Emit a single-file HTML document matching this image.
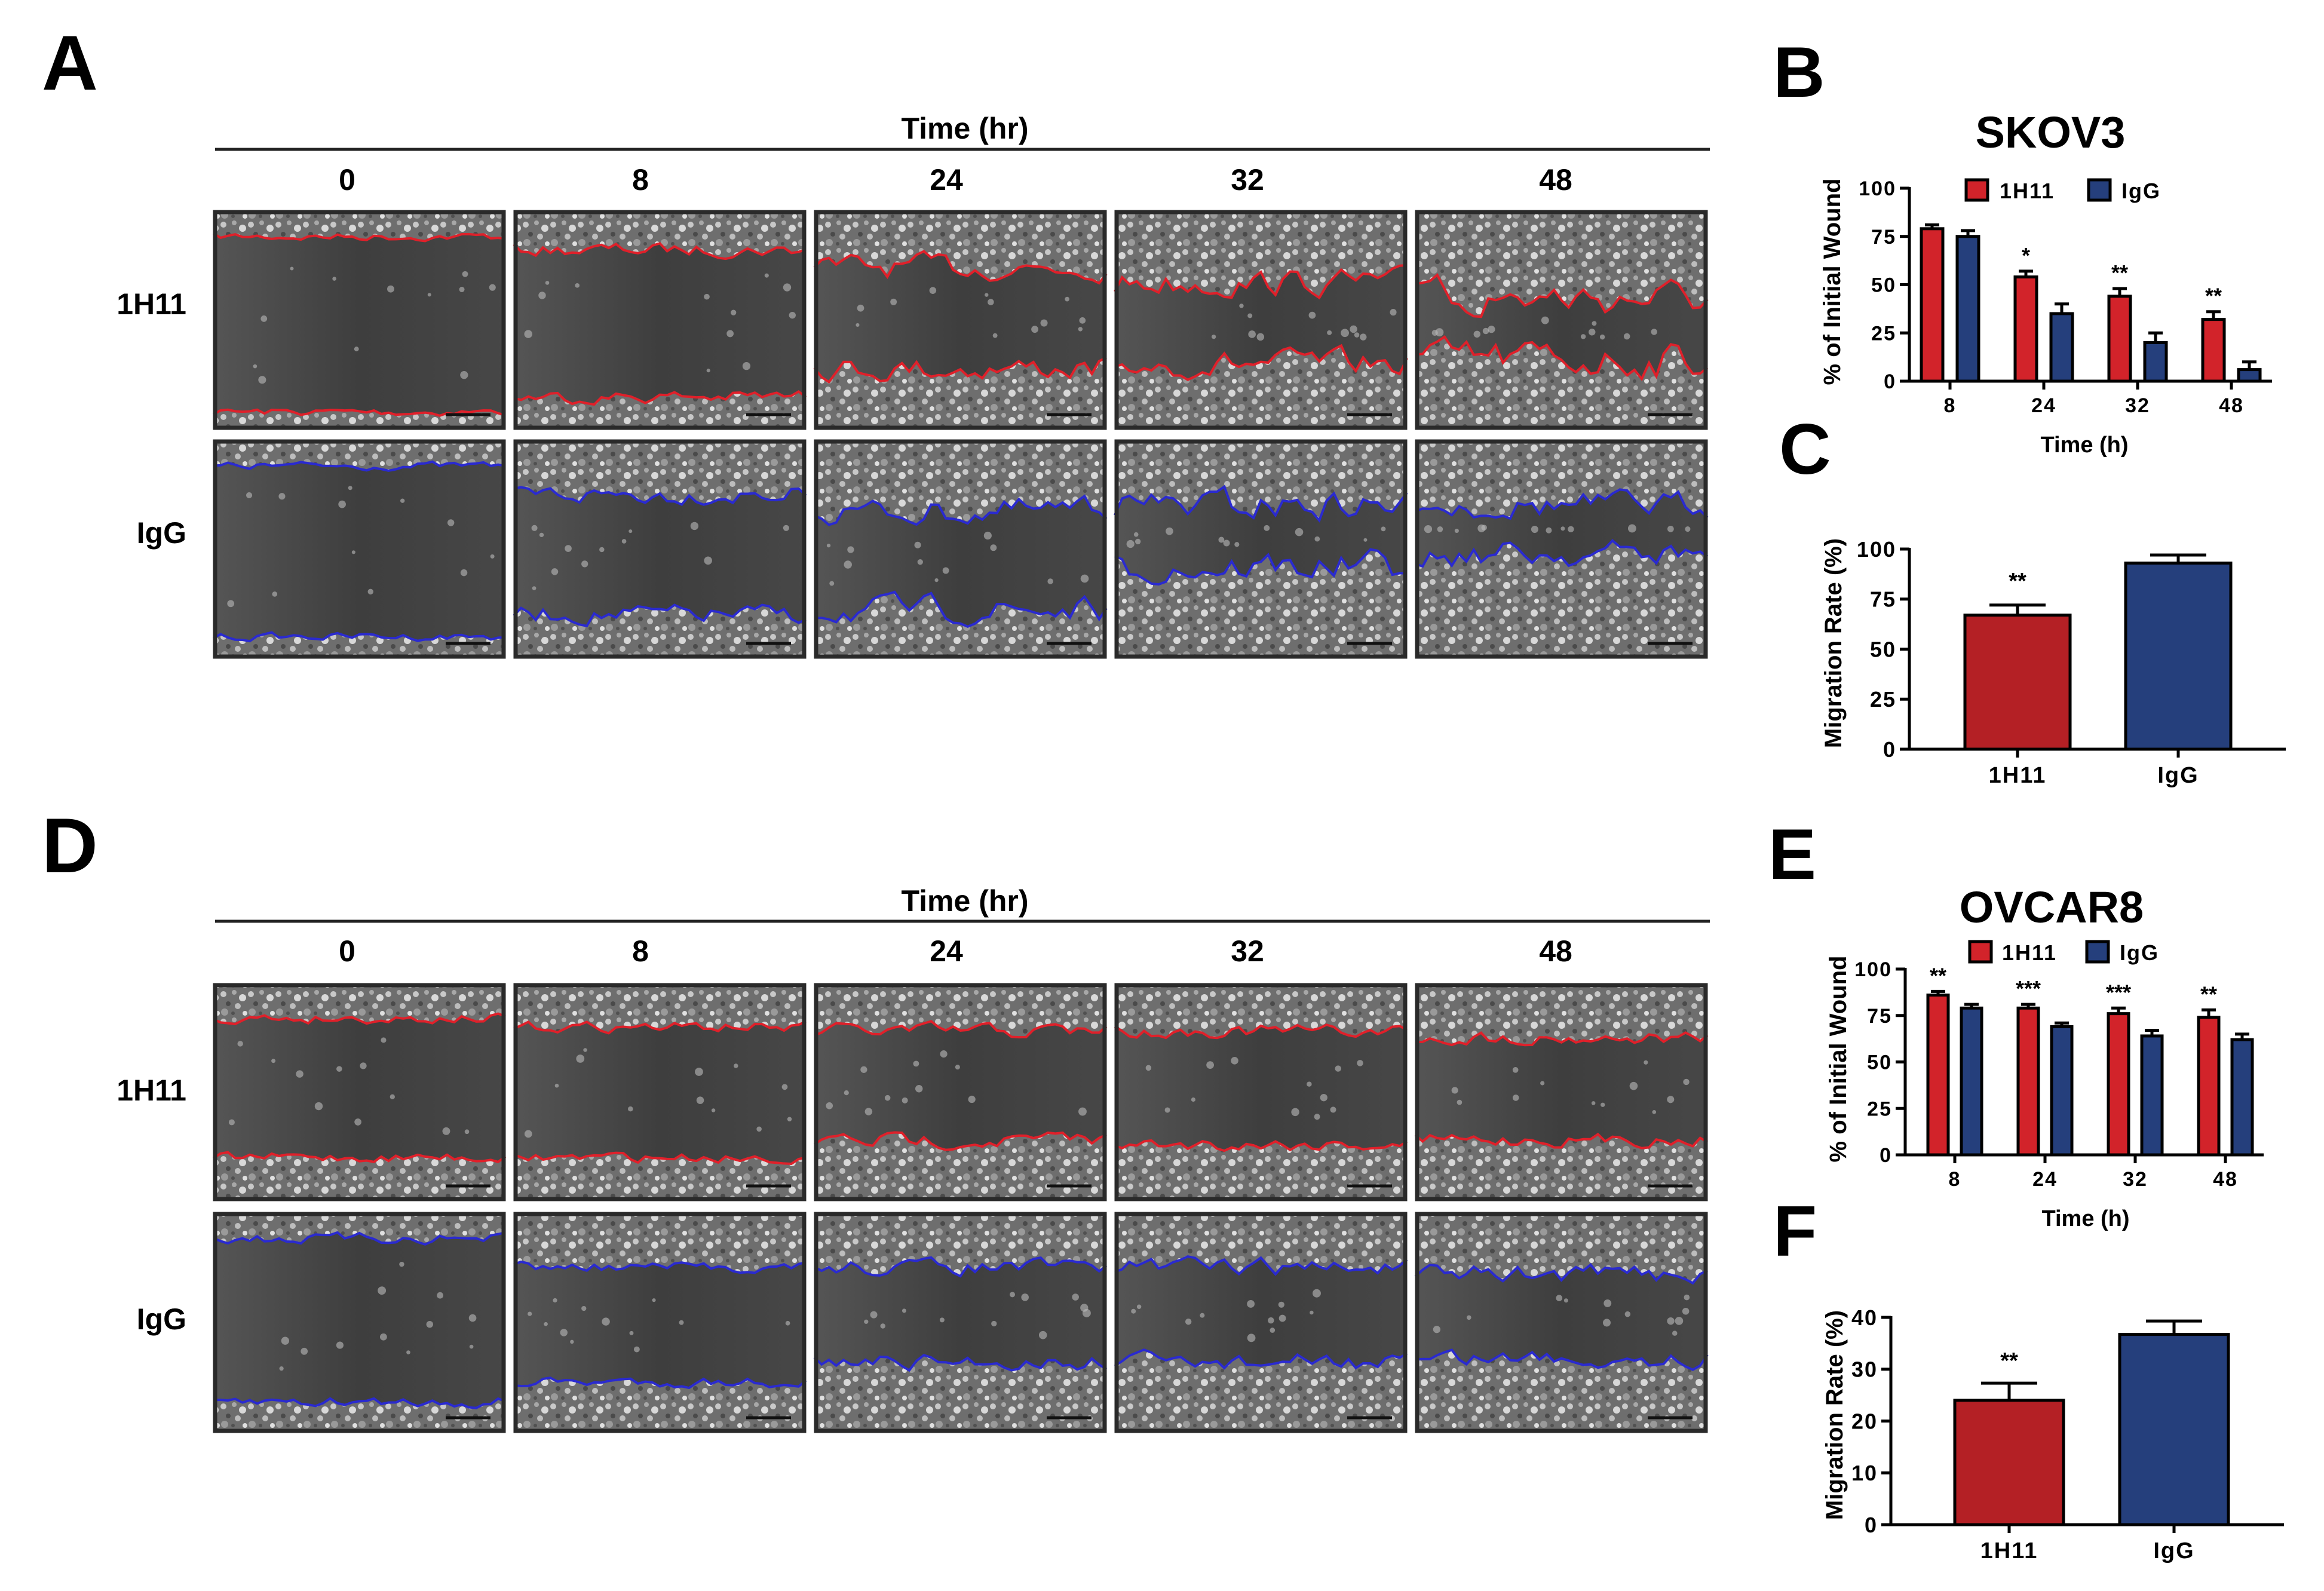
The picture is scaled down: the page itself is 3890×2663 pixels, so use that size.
<!DOCTYPE html>
<html><head><meta charset="utf-8">
<style>
html,body{margin:0;padding:0;background:#fff;}
svg{display:block;}
text{font-family:"Liberation Sans",Arial,sans-serif;font-weight:bold;fill:#000;}
</style></head>
<body>
<svg id="fig" width="3890" height="2663" viewBox="0 0 3890 2663" xmlns="http://www.w3.org/2000/svg">
<defs>
<pattern id="cells" width="46" height="46" patternUnits="userSpaceOnUse">
<rect width="46" height="46" fill="#6e6e6e"/>
<circle cx="6" cy="8" r="5" fill="#c8c8c8"/><circle cx="24" cy="5" r="4" fill="#a8a8a8"/>
<circle cx="38" cy="14" r="6" fill="#d8d8d8"/><circle cx="14" cy="24" r="4" fill="#4a4a4a"/>
<circle cx="30" cy="28" r="5" fill="#bdbdbd"/><circle cx="8" cy="38" r="6" fill="#9a9a9a"/>
<circle cx="42" cy="40" r="4" fill="#e0e0e0"/><circle cx="22" cy="40" r="3" fill="#505050"/>
</pattern>
<linearGradient id="gapg" x1="0" x2="1" y1="0" y2="0">
<stop offset="0" stop-color="#555"/><stop offset="0.5" stop-color="#3e3e3e"/><stop offset="1" stop-color="#474747"/>
</linearGradient>
</defs>
<g id="panels"></g>
<g id="charts"></g>
</svg>
<script>
// ---- Chart data ----
const timeCats = ['8','24','32','48'];
const skovRed = [79, 54, 44, 32];
const skovRedErr = [2, 3, 4, 4];
const skovBlue = [75, 35, 20, 6];
const skovBlueErr = [3, 5, 5, 4];
const skovStars = ['', '*', '**', '**'];
const ovRed = [86, 79, 76, 74];
const ovRedErr = [2, 2, 3, 4];
const ovBlue = [79, 69, 64, 62];
const ovBlueErr = [2, 2, 3, 3];
const ovStars = ['**', '***', '***', '**'];
const migCats = ['1H11', 'IgG'];
const skovMig = [67, 93];
const skovMigErr = [5, 4];
const ovMig = [24, 36.7];
const ovMigErr = [3.3, 2.6];
const ticks100 = [0, 25, 50, 75, 100];
const ticks40 = [0, 10, 20, 30, 40];

const NS = 'http://www.w3.org/2000/svg';
function mk(tag, attrs, parent, txt) {
  const e = document.createElementNS(NS, tag);
  for (const k in attrs) e.setAttribute(k, attrs[k]);
  if (txt !== undefined) e.textContent = txt;
  parent.appendChild(e);
  return e;
}
const fig = document.getElementById('fig');
const P = document.getElementById('panels');
const C = document.getElementById('charts');

function label(x, y, s, size, name, anchor, family, extra) {
  const t = mk('text', {x: x, y: y, 'font-size': size, 'text-anchor': anchor || 'middle'}, fig, s);
  if (family) t.setAttribute('style', 'font-family:' + family + ';' + (extra || ''));
  
  
  return t;
}
label(70, 150, 'A', 130, 'panel-letter-a', 'start');
label(70, 1460, 'D', 130, 'panel-letter-d', 'start');
label(2968, 162, 'B', 120, 'panel-letter-b', 'start');
label(2978, 793, 'C', 120, 'panel-letter-c', 'start');
label(2960, 1471, 'E', 120, 'panel-letter-e', 'start');
label(2968, 2102, 'F', 120, 'panel-letter-f', 'start');

const px0 = 357, pstep = 503, pw = 489;
const times = ['0', '8', '24', '32', '48'];
const labX = [581, 1072, 1584, 2088, 2604];
const condensed = '"Liberation Sans Narrow","Liberation Sans",sans-serif';
function header(yTitle, yLine, yLab, prefix) {
  label(1615, yTitle, 'Time (hr)', 50, prefix + '-time-title', 'middle', condensed);
  const l = mk('line', {x1: 360, x2: 2862, y1: yLine, y2: yLine, stroke: '#222', 'stroke-width': 5}, fig);
  
  
  times.forEach((t, i) => label(labX[i], yLab, t, 50, prefix + '-time-' + t, 'middle', condensed));
}
header(232, 250, 318, 'skov');
header(1525, 1542, 1609, 'ovcar');
label(312, 526, '1H11', 50, 'skov-row-1h11', 'end', condensed);
label(312, 909, 'IgG', 50, 'skov-row-igg', 'end', condensed);
label(312, 1842, '1H11', 50, 'ovcar-row-1h11', 'end', condensed);
label(312, 2225, 'IgG', 50, 'ovcar-row-igg', 'end', condensed);

// ---- Scratch wound micrographs ----
let seed = 7;
function rnd() { seed = (seed * 16807) % 2147483647; return seed / 2147483647; }
function boundary(x, y, w, h, frac, jag) {
  const pts = [];
  const n = 40;
  let off = 0;
  for (let i = 0; i <= n; i++) {
    off = off * 0.5 + (rnd() - 0.5) * jag;
    pts.push([x + w * i / n, y + h * frac + off * h]);
  }
  return pts;
}
function panel(x, y, w, h, top, bot, jag, col, name) {
  const g = mk('g', {}, P);
  
  
  mk('rect', {x: x, y: y, width: w, height: h, fill: 'url(#cells)'}, g);
  const tb = boundary(x, y, w, h, top, jag);
  const bb = boundary(x, y, w, h, bot, jag);
  const gapPts = tb.concat(bb.slice().reverse());
  mk('polygon', {points: gapPts.map(p => p.join(',')).join(' '), fill: 'url(#gapg)'}, g);
  mk('polyline', {points: tb.map(p => p.join(',')).join(' '), fill: 'none', stroke: col, 'stroke-width': 4}, g);
  mk('polyline', {points: bb.map(p => p.join(',')).join(' '), fill: 'none', stroke: col, 'stroke-width': 4}, g);
  for (let i = 0; i < 12; i++) {
    mk('circle', {cx: x + 20 + rnd() * (w - 40), cy: y + h * (top + 0.1 + rnd() * (bot - top - 0.2)), r: 3 + rnd() * 4, fill: '#bbb', opacity: 0.6}, g);
  }
  mk('line', {x1: x + w - 100, x2: x + w - 25, y1: y + h - 25, y2: y + h - 25, stroke: '#111', 'stroke-width': 5}, g);
  mk('rect', {x: x + 3, y: y + 3, width: w - 6, height: h - 6, fill: 'none', stroke: '#2a2a2a', 'stroke-width': 7}, g);
}
const rowsDef = [
  {y: 352, h: 367, col: '#e0202a', fr: [[0.12,0.92],[0.18,0.85],[0.26,0.72],[0.33,0.70],[0.40,0.68]], jag: [0.03,0.05,0.09,0.1,0.14], n: 'skov-1h11'},
  {y: 736, h: 366, col: '#2a2ad0', fr: [[0.12,0.90],[0.25,0.80],[0.33,0.78],[0.30,0.58],[0.30,0.52]], jag: [0.03,0.07,0.1,0.12,0.1], n: 'skov-igg'},
  {y: 1646, h: 364, col: '#e0202a', fr: [[0.16,0.80],[0.20,0.80],[0.22,0.72],[0.22,0.74],[0.25,0.72]], jag: [0.04,0.04,0.06,0.05,0.05], n: 'ovcar-1h11'},
  {y: 2029, h: 369, col: '#2a2ad0', fr: [[0.12,0.86],[0.25,0.77],[0.25,0.68],[0.25,0.68],[0.28,0.66]], jag: [0.04,0.04,0.06,0.07,0.07], n: 'ovcar-igg'}
];
rowsDef.forEach(r => r.fr.forEach((f, i) => panel(px0 + i * pstep, r.y, pw, r.h, f[0], f[1], r.jag[i], r.col, r.n + '-t' + times[i])));

// ---- Bar charts ----
const RED = '#d2232a', RED2 = '#b42025', BLUE = '#253f7c';
function yAxis(g, ax, y0, yTop, max, ticks, right, fs, prefix) {
  const ys = v => y0 - v / max * (y0 - yTop);
  const a = mk('line', {x1: ax, x2: ax, y1: yTop - 2, y2: y0, stroke: '#000', 'stroke-width': 5}, g);
   
  const b = mk('line', {x1: ax - 2, x2: right, y1: y0, y2: y0, stroke: '#000', 'stroke-width': 5}, g);
   
  ticks.forEach(t => {
    mk('line', {x1: ax - 16, x2: ax, y1: ys(t), y2: ys(t), stroke: '#000', 'stroke-width': 5}, g);
    const tl = mk('text', {x: ax - 22, y: ys(t) + fs * 0.36, 'font-size': fs, 'text-anchor': 'end', style: 'letter-spacing:2px'}, g, t);
     
  });
  return ys;
}
function bar(g, cx, w, v, e, ys, y0, fill, cap, name) {
  const r = mk('rect', {x: cx - w / 2, y: ys(v), width: w, height: y0 - ys(v), fill: fill, stroke: '#000', 'stroke-width': 5}, g);
   
  const el = mk('path', {d: 'M' + cx + ',' + ys(v) + 'V' + ys(v + e) + 'M' + (cx - cap / 2) + ',' + ys(v + e) + 'H' + (cx + cap / 2), stroke: '#000', 'stroke-width': 5, fill: 'none'}, g);
   
}
function ylabel(g, x, y, s, fs, name) {
  const t = mk('text', {x: 0, y: 0, 'font-size': fs, 'text-anchor': 'middle', transform: 'translate(' + x + ',' + y + ') rotate(-90)', style: 'font-family:' + condensed}, g, s);
   
}
function groupedChart(o) {
  const g = mk('g', {}, C);
   
  const ys = yAxis(g, o.ax, o.y0, o.yTop, 100, ticks100, o.right, 34, o.p);
  const t = mk('text', {x: o.titleX, y: o.titleY, 'font-size': 74, 'text-anchor': 'middle'}, g, o.title);
   
  timeCats.forEach((c, i) => {
    const cx = o.ax + o.firstOff + i * o.step;
    mk('line', {x1: cx, x2: cx, y1: o.y0, y2: o.y0 + 14, stroke: '#000', 'stroke-width': 5}, g);
    const tl = mk('text', {x: cx, y: o.y0 + 52, 'font-size': 34, 'text-anchor': 'middle', style: 'letter-spacing:2px'}, g, c);
     
    bar(g, cx - o.off, o.bw, o.red[i], o.redErr[i], ys, o.y0, RED, 24, o.p + '-bar-1h11-' + c);
    bar(g, cx + o.off, o.bw, o.blue[i], o.blueErr[i], ys, o.y0, BLUE, 24, o.p + '-bar-igg-' + c);
    if (o.stars[i]) {
      const s = mk('text', {x: cx - o.off, y: ys(o.red[i] + o.redErr[i]) - 14, 'font-size': 36, 'text-anchor': 'middle'}, g, o.stars[i]);
       
    }
  });
  const xt = mk('text', {x: o.xtX, y: o.xtY, 'font-size': 38, 'text-anchor': 'middle'}, g, 'Time (h)');
   
  ylabel(g, o.ylX, (o.y0 + o.yTop) / 2 - 5, '% of Initial Wound', 40, o.p + '-y-axis-title');
  const L = o.leg;
  [[L.rx, RED, '1H11', L.tx1], [L.bx, BLUE, 'IgG', L.tx2]].forEach((d, i) => {
    const r = mk('rect', {x: d[0], y: L.y, width: 36, height: 34, fill: d[1], stroke: '#000', 'stroke-width': 5}, g);
     
    const tx = mk('text', {x: d[3], y: L.y + 31, 'font-size': 36, style: 'letter-spacing:2px'}, g, d[2]);
     
  });
}
groupedChart({p: 'skov', ax: 3196, right: 3803, y0: 638, yTop: 315, firstOff: 68, step: 157, off: 30, bw: 36,
  red: skovRed, redErr: skovRedErr, blue: skovBlue, blueErr: skovBlueErr, stars: skovStars,
  title: 'SKOV3', titleX: 3432, titleY: 247, xtX: 3489, xtY: 757, ylX: 3080,
  leg: {y: 301, rx: 3291, bx: 3496, tx1: 3347, tx2: 3551}});
groupedChart({p: 'ovcar', ax: 3189, right: 3789, y0: 1933, yTop: 1622, firstOff: 83, step: 151, off: 28, bw: 34,
  red: ovRed, redErr: ovRedErr, blue: ovBlue, blueErr: ovBlueErr, stars: ovStars,
  title: 'OVCAR8', titleX: 3434, titleY: 1544, xtX: 3491, xtY: 2052, ylX: 3090,
  leg: {y: 1576, rx: 3297, bx: 3493, tx1: 3351, tx2: 3548}});

function migChart(o) {
  const g = mk('g', {}, C);
   
  const ys = yAxis(g, o.ax, o.y0, o.yTop, o.max, o.ticks, o.right, 36, o.p + '-mig');
  migCats.forEach((c, i) => {
    const cx = o.cx[i];
    mk('line', {x1: cx, x2: cx, y1: o.y0, y2: o.y0 + 14, stroke: '#000', 'stroke-width': 5}, g);
    const tl = mk('text', {x: cx, y: o.y0 + 56, 'font-size': 38, 'text-anchor': 'middle', style: 'letter-spacing:2px'}, g, c);
     
    bar(g, cx, o.bw, o.vals[i], o.errs[i], ys, o.y0, i ? BLUE : RED2, 94, o.p + '-mig-bar-' + c);
  });
  const s = mk('text', {x: o.cx[0], y: o.starY, 'font-size': 38, 'text-anchor': 'middle'}, g, '**');
   
  ylabel(g, o.ylX, (o.y0 + o.yTop) / 2 - 10, 'Migration Rate (%)', 40, o.p + '-mig-y-axis-title');
}
migChart({p: 'skov', ax: 3196, right: 3826, y0: 1254, yTop: 919, max: 100, ticks: ticks100, cx: [3377, 3646], bw: 176,
  vals: skovMig, errs: skovMigErr, starY: 985, ylX: 3082});
migChart({p: 'ovcar', ax: 3165, right: 3823, y0: 2552, yTop: 2205, max: 40, ticks: ticks40, cx: [3363, 3639], bw: 182,
  vals: ovMig, errs: ovMigErr, starY: 2290, ylX: 3084});
</script>
</body></html>
